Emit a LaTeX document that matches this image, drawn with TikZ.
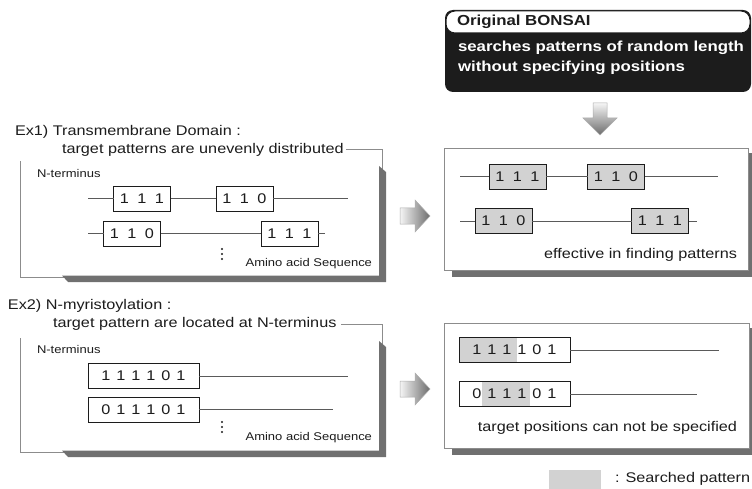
\documentclass[tikz,border=0pt]{standalone}
\usepackage{fontspec}
\setmainfont{Liberation Sans}[FakeStretch=1.16]
\definecolor{shadowgray}{HTML}{707070}
\definecolor{framegray}{HTML}{8C8C8C}
\definecolor{patgray}{HTML}{D2D2D2}
\definecolor{linegray}{HTML}{5A5A5A}
\definecolor{inkblack}{HTML}{1C1C1C}
\newcommand\dg[1]{\makebox[17.5pt]{#1}}
\newcommand\dd[1]{\makebox[15pt]{#1}}
\tikzset{
  every node/.style={inner sep=0pt, outer sep=0pt, text=inkblack},
  bigtext/.style={font=\fontsize{14}{16}\selectfont},
  boldtext/.style={font=\fontsize{14.5}{17}\selectfont\bfseries},
  smalltext/.style={font=\fontsize{11.2}{13}\selectfont},
  label/.style={anchor=base west, bigtext},
  seqbox/.style={draw=inkblack, line width=0.9pt, minimum height=25pt, bigtext},
  tribox/.style={seqbox, fill=white, minimum width=57pt},
  hexbox/.style={seqbox, minimum width=111pt},
  seqline/.style={draw=linegray, line width=0.7pt},
  frameline/.style={draw=framegray, line width=0.8pt},
  dotmark/.style={circle, fill=inkblack, minimum size=2.4pt},
  fatarrow/.style={draw=gray!65, line width=0.5pt},
}
\begin{document}
\begin{tikzpicture}[x=1pt, y=-1pt]
\useasboundingbox (0,0) rectangle (752,489);

% ---------- Original BONSAI header ----------
\fill[inkblack, rounded corners=8pt] (445,10) rectangle (751,92);
\draw[fill=white, draw=inkblack, line width=1pt, rounded corners=9pt] (446,11) rectangle (750,33);
\node[anchor=base west, boldtext] (orig) at (457,26) {Original BONSAI};
\node[anchor=base west, boldtext, text=white] (srch1) at (458,51.5) {searches patterns of random length};
\node[anchor=base west, boldtext, text=white] (srch2) at (458,71.5) {without specifying positions};

% down arrow
\shade[fatarrow, top color=gray!8, bottom color=gray!85!black]
  (593,103) -- (607,103) -- (607,118) -- (617,118) -- (600,135) -- (583,118) -- (593,118) -- cycle;

% ---------- Ex1: left panel ----------
\draw[frameline] (20,149) rectangle (382,277);
\fill[shadowgray] (379,166) -- (386,172) -- (386,282) -- (68,282) -- (62,275.5) -- (379,275.5) -- cycle;
\fill[white] (12,118) rectangle (346,161.5);
\node[label] (ex1) at (15,136) {Ex1) Transmembrane Domain :};
\node[label] (ex1b) at (62,153.5) {target patterns are unevenly distributed};
\node[anchor=base west, smalltext] (nt1) at (37,178) {N-terminus};

\coordinate (a1l) at (88,198.5);
\coordinate (a1r) at (348,198.5);
\node[tribox] (a11) at (142,198.5) {\dg1\dg1\dg1};
\node[tribox] (a12) at (244.5,198.5) {\dg1\dg1\dg0};
\draw[seqline] (a1l) -- (a11.west) (a11.east) -- (a12.west) (a12.east) -- (a1r);

\coordinate (a2l) at (88,233.5);
\coordinate (a2r) at (325,233.5);
\node[tribox] (a21) at (132,233.5) {\dg1\dg1\dg0};
\node[tribox] (a22) at (289.5,233.5) {\dg1\dg1\dg1};
\draw[seqline] (a2l) -- (a21.west) (a21.east) -- (a22.west) (a22.east) -- (a2r);

\node[dotmark] (d11) at (222,249) {};
\node[dotmark] (d12) at (222,254) {};
\node[dotmark] (d13) at (222,259) {};
\node[anchor=base east, smalltext] (aa1) at (372,266.5) {Amino acid Sequence};

% arrow to result 1
\shade[fatarrow, left color=gray!8, right color=gray!85!black]
  (400,208) -- (415,208) -- (415,200) -- (430,216) -- (415,232) -- (415,224) -- (400,224) -- cycle;

% ---------- Ex1: result panel ----------
\fill[shadowgray] (452,153) rectangle (753,277);
\draw[frameline, fill=white] (444,148) rectangle (748,270);

\coordinate (b1l) at (460,176.5);
\coordinate (b1r) at (718,176.5);
\node[tribox, fill=patgray] (b11) at (517.5,176.5) {\dg1\dg1\dg1};
\node[tribox, fill=patgray] (b12) at (616,176.5) {\dg1\dg1\dg0};
\draw[seqline] (b1l) -- (b11.west) (b11.east) -- (b12.west) (b12.east) -- (b1r);

\coordinate (b2l) at (460,221);
\coordinate (b2r) at (697,221);
\node[tribox, fill=patgray] (b21) at (503.5,221) {\dg1\dg1\dg0};
\node[tribox, fill=patgray] (b22) at (660,221) {\dg1\dg1\dg1};
\draw[seqline] (b2l) -- (b21.west) (b21.east) -- (b22.west) (b22.east) -- (b2r);

\node[anchor=base east, bigtext] (eff) at (737,258) {effective in finding patterns};

% ---------- Ex2: left panel ----------
\draw[frameline] (20,324) rectangle (382,452);
\fill[shadowgray] (379,341) -- (386,347) -- (386,457) -- (68,457) -- (62,450.5) -- (379,450.5) -- cycle;
\fill[white] (4,292) rectangle (341,337.5);
\node[label] (ex2) at (8,309) {Ex2) N-myristoylation :};
\node[label] (ex2b) at (53,327.5) {target pattern are located at N-terminus};
\node[anchor=base west, smalltext] (nt2) at (37,353) {N-terminus};

\coordinate (c1r) at (348,376);
\node[hexbox, fill=white] (c1) at (143.5,376) {\dd1\dd1\dd1\dd1\dd0\dd1};
\draw[seqline] (c1.east) -- (c1r);
\coordinate (c2r) at (333,409.5);
\node[hexbox, fill=white] (c2) at (143.5,409.5) {\dd0\dd1\dd1\dd1\dd0\dd1};
\draw[seqline] (c2.east) -- (c2r);

\node[dotmark] (d21) at (222,422) {};
\node[dotmark] (d22) at (222,427) {};
\node[dotmark] (d23) at (222,432) {};
\node[anchor=base east, smalltext] (aa2) at (372,440.5) {Amino acid Sequence};

% arrow to result 2
\shade[fatarrow, left color=gray!8, right color=gray!85!black]
  (400,381) -- (415,381) -- (415,373) -- (430,389) -- (415,405) -- (415,397) -- (400,397) -- cycle;

% ---------- Ex2: result panel ----------
\fill[shadowgray] (452,328) rectangle (753,455);
\draw[frameline, fill=white] (444,323) rectangle (749,448);

\fill[patgray] (459,337.5) rectangle (517,362.5);
\fill[patgray] (482,381.5) rectangle (530,406.5);
\coordinate (e1r) at (719,350);
\node[hexbox] (e1) at (514.5,350) {\dd1\dd1\dd1\dd1\dd0\dd1};
\draw[seqline] (e1.east) -- (e1r);
\coordinate (e2r) at (697,394);
\node[hexbox] (e2) at (514.5,394) {\dd0\dd1\dd1\dd1\dd0\dd1};
\draw[seqline] (e2.east) -- (e2r);

\node[anchor=base east, bigtext] (tps) at (737,431.5) {target positions can not be specified};

% ---------- legend ----------
\fill[patgray] (549,470) rectangle (601,490);
\node[anchor=base west, bigtext] (leg) at (615,482) {: Searched pattern};
\end{tikzpicture}
\end{document}
